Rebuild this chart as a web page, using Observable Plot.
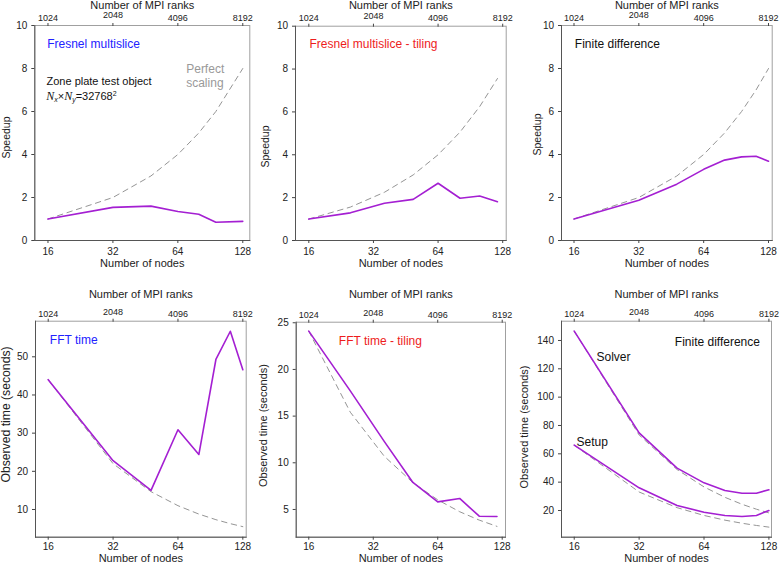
<!DOCTYPE html>
<html><head><meta charset="utf-8">
<script src="https://cdn.jsdelivr.net/npm/d3@7"></script>
<script src="https://cdn.jsdelivr.net/npm/@observablehq/plot@0.6"></script>
<style>
body{margin:0;background:#fff;}
#c{position:relative;width:780px;height:564px;overflow:hidden;background:#fff;}
</style></head><body><div id="c"></div>
<script>
// ---------- data ----------
const nodeTicks = [16, 32, 64, 128];
const rankLabels = [1024, 2048, 4096, 8192];

const nodesFresnel = [16, 32, 48, 64, 80, 96, 128];
const speedupFresnel = [1.0, 1.54, 1.6, 1.35, 1.22, 0.85, 0.89];
const perfectFresnel = [1, 2, 3, 4, 5, 6, 8];

const nodesTiling = [16, 25, 36, 49, 64, 81, 100, 121];
const speedupTiling = [1.0, 1.29, 1.74, 1.92, 2.67, 1.97, 2.08, 1.81];
const perfectTiling = [1, 1.56, 2.25, 3.06, 4, 5.06, 6.25, 7.56];

const nodesFD = [16, 32, 48, 64, 80, 96, 112, 128];
const speedupFD = [1.0, 1.87, 2.62, 3.31, 3.74, 3.89, 3.92, 3.69];
const perfectFD = [1, 2, 3, 4, 5, 6, 7, 8];

const nodesFFT = [16, 32, 48, 64, 80, 96, 112, 128];
const fftTime = [44.0, 22.8, 15.0, 30.9, 24.4, 49.3, 56.7, 46.6];
const fftPerfect = [44, 22, 14.67, 11, 8.8, 7.33, 6.29, 5.5];

const fftTilingTime = [24.1, 17.7, 12.3, 7.89, 5.81, 6.18, 4.28, 4.25];
const fftTilingPerfect = [24.1, 15.42, 10.71, 7.87, 6.03, 4.76, 3.86, 3.19];

const solverTime = [146.6, 74.8, 49.9, 39.5, 34.1, 32.2, 32.2, 34.6];
const solverPerfect = [146.6, 73.3, 48.9, 36.65, 29.3, 24.4, 20.9, 18.3];
const setupTime = [66.1, 36.0, 23.5, 18.8, 16.5, 15.8, 16.5, 20.0];
const setupPerfect = [66.1, 33.05, 22.0, 16.5, 13.2, 11.0, 9.44, 8.26];

const speedTicks = [0, 2, 4, 6, 8, 10];
const fftTicks = [10, 20, 30, 40, 50];
const fftTilingTicks = [5, 10, 15, 20, 25];
const fdTimeTicks = [20, 40, 60, 80, 100, 120, 140];

// ---------- style ----------
const FONT = "'Liberation Sans', Arial, Helvetica, sans-serif";
const PURPLE = "#a41fd2";
const DASH = "#959595";
const BLUE = "#2222ff";
const RED = "#ee1c1c";

// layout per panel (page pixels)
const layouts = [
  {left:0,   top:0,   w:255, h:270, mL:34.3, mR:5.7, mT:25,   mB:30,   xa:3.797, xb:7.108, yd:[0,10],       topTitleY:5,   botTitleY:262.5, yLabelX:6,     yLabelY:137,   yLabelSize:10.5, topPad:1.8, botPad:4.2},
  {left:255, top:0,   w:260, h:270, mL:40,   mR:9.3, mT:25.7, mB:30,   xa:3.794, xb:7.054, yd:[0,10],       topTitleY:5,   botTitleY:262.5, yLabelX:265,   yLabelY:146,   yLabelSize:10.5, topPad:1.8, botPad:4.2},
  {left:515, top:0,   w:265, h:270, mL:46,   mR:8.3, mT:25,   mB:30,   xa:3.807, xb:7.057, yd:[0,10],       topTitleY:5,   botTitleY:262.5, yLabelX:536.7, yLabelY:134,   yLabelSize:10.5, topPad:1.8, botPad:4.2},
  {left:0,   top:280, w:255, h:284, mL:35,   mR:9.3, mT:40.7, mB:27.3, xa:3.804, xb:7.052, yd:[2.74,59.33], topTitleY:294, botTitleY:557.5, yLabelX:6,     yLabelY:414,   yLabelSize:12.2, topPad:1,   botPad:3},
  {left:255, top:280, w:260, h:284, mL:40.7, mR:10,  mT:41.7, mB:27.3, xa:3.805, xb:7.051, yd:[2.03,25.06], topTitleY:294, botTitleY:557.5, yLabelX:263.3, yLabelY:425,   yLabelSize:11,   topPad:1,   botPad:3},
  {left:515, top:280, w:265, h:284, mL:46,   mR:9,   mT:40.7, mB:27.3, xa:3.804, xb:7.04,  yd:[1.15,153.6], topTitleY:294, botTitleY:557.5, yLabelX:524,   yLabelY:426.5, yLabelSize:11,   topPad:1,   botPad:3}
];

const specs = [
  {yLabel:"Speedup", yTicks:speedTicks,
   series:[{x:nodesFresnel, y:perfectFresnel, dashed:true},{x:nodesFresnel, y:speedupFresnel}],
   notes:[{t:"Fresnel multislice", x:46.7, y:43.3, fill:BLUE, size:12},
          {t:"Zone plate test object", x:46, y:80, fill:"#111", size:11},
          {t:"NXNYEQ", x:45.7, y:95, fill:"#111", size:11},
          {t:"Perfect\nscaling", x:185.7, y:75, fill:"#999", size:12}]},
  {yLabel:"Speedup", yTicks:speedTicks,
   series:[{x:nodesTiling, y:perfectTiling, dashed:true},{x:nodesTiling, y:speedupTiling}],
   notes:[{t:"Fresnel multislice - tiling", x:309, y:43.3, fill:RED, size:12}]},
  {yLabel:"Speedup", yTicks:speedTicks,
   series:[{x:nodesFD, y:perfectFD, dashed:true},{x:nodesFD, y:speedupFD}],
   notes:[{t:"Finite difference", x:574.3, y:43.3, fill:"#111", size:12}]},
  {yLabel:"Observed time (seconds)", yTicks:fftTicks,
   series:[{x:nodesFFT, y:fftPerfect, dashed:true},{x:nodesFFT, y:fftTime}],
   notes:[{t:"FFT time", x:49.3, y:339.3, fill:BLUE, size:12}]},
  {yLabel:"Observed time (seconds)", yTicks:fftTilingTicks,
   series:[{x:nodesTiling, y:fftTilingPerfect, dashed:true},{x:nodesTiling, y:fftTilingTime}],
   notes:[{t:"FFT time - tiling", x:338.3, y:340, fill:RED, size:12}]},
  {yLabel:"Observed time (seconds)", yTicks:fdTimeTicks,
   series:[{x:nodesFD, y:solverPerfect, dashed:true},{x:nodesFD, y:setupPerfect, dashed:true},
           {x:nodesFD, y:solverTime},{x:nodesFD, y:setupTime}],
   notes:[{t:"Finite difference", x:674.3, y:341, fill:"#111", size:12},
          {t:"Solver", x:596, y:356, fill:"#111", size:12},
          {t:"Setup", x:576, y:441, fill:"#111", size:12}]}
];

const rankFmt = d => String(rankLabels[nodeTicks.indexOf(d)]);
const container = document.getElementById("c");

layouts.forEach((L, k) => {
  const spec = specs[k];
  const fx0 = L.left + L.mL, fy0 = L.top + L.mT;
  const fw = L.w - L.mL - L.mR;
  const at = (px, py) => ({frameAnchor: "top-left", dx: px - fx0, dy: py - fy0});
  const marks = [];
  marks.push(Plot.frame({stroke: "#a0a0a0"}));
  marks.push(Plot.frame({anchor: "left", stroke: "#555"}));
  marks.push(Plot.frame({anchor: "bottom", stroke: "#555"}));
  for (const s of spec.series.filter(s => s.dashed)) {
    marks.push(Plot.line(s.x.map((x, i) => ({x, y: s.y[i]})), {x: "x", y: "y", stroke: DASH, strokeWidth: 1, strokeDasharray: "5.5,4.5"}));
  }
  for (const s of spec.series.filter(s => !s.dashed)) {
    marks.push(Plot.line(s.x.map((x, i) => ({x, y: s.y[i]})), {x: "x", y: "y", stroke: PURPLE, strokeWidth: 1.6}));
  }
  marks.push(Plot.axisX(nodeTicks, {anchor: "bottom", tickSize: 3, tickPadding: L.botPad, fontSize: 10, label: null, tickFormat: d => String(d), stroke: "#444", fill: "#222"}));
  marks.push(Plot.axisX(nodeTicks.filter(d => d !== 32), {anchor: "top", tickSize: 3, tickPadding: L.topPad, fontSize: 9, label: null, tickFormat: rankFmt, stroke: "#444", fill: "#222"}));
  marks.push(Plot.axisX([32], {anchor: "top", tickSize: 3, tickPadding: L.topPad + 2.5, fontSize: 9, label: null, tickFormat: rankFmt, stroke: "#444", fill: "#222"}));
  marks.push(Plot.axisY(spec.yTicks, {anchor: "left", tickSize: 3, tickPadding: 4.5, fontSize: 10, label: null, stroke: "#444", fill: "#222"}));
  marks.push(Plot.text(["Number of MPI ranks"], {text: d => d, ...at(fx0 + fw / 2, L.topTitleY), textAnchor: "middle", lineAnchor: "middle", fontSize: 11, fill: "#222"}));
  marks.push(Plot.text(["Number of nodes"], {text: d => d, ...at(fx0 + fw / 2, L.botTitleY), textAnchor: "middle", lineAnchor: "middle", fontSize: 11, fill: "#222"}));
  marks.push(Plot.text([spec.yLabel], {text: d => d, ...at(L.yLabelX, L.yLabelY), rotate: -90, textAnchor: "middle", lineAnchor: "middle", fontSize: L.yLabelSize, fill: "#222"}));
  for (const n of spec.notes) {
    marks.push(Plot.text([n.t], {text: d => d, ...at(n.x, n.y), textAnchor: "start", lineAnchor: "middle", fontSize: n.size, fill: n.fill, lineHeight: 1.17}));
  }
  const svg = Plot.plot({
    width: L.w, height: L.h,
    marginLeft: L.mL, marginRight: L.mR, marginTop: L.mT, marginBottom: L.mB,
    x: {type: "log", base: 2, domain: [Math.pow(2, L.xa), Math.pow(2, L.xb)]},
    y: {domain: L.yd},
    style: {fontFamily: FONT, fontSize: "10px", background: "transparent", overflow: "visible"},
    marks
  });
  svg.style.position = "absolute";
  svg.style.left = L.left + "px";
  svg.style.top = L.top + "px";
  for (const t of svg.querySelectorAll("text")) {
    if (t.textContent === "NXNYEQ") {
      const serif = "'Liberation Serif', 'Times New Roman', serif";
      t.innerHTML = `<tspan font-style="italic" font-family="${serif}" font-size="12">N</tspan><tspan font-style="italic" font-size="7" dy="2">x</tspan><tspan dy="-2">×</tspan><tspan font-style="italic" font-family="${serif}" font-size="12">N</tspan><tspan font-style="italic" font-size="7" dy="2">y</tspan><tspan dy="-2">=32768</tspan><tspan font-size="7" dy="-4">2</tspan>`;
    }
  }
  container.appendChild(svg);
});
</script>
</body></html>
